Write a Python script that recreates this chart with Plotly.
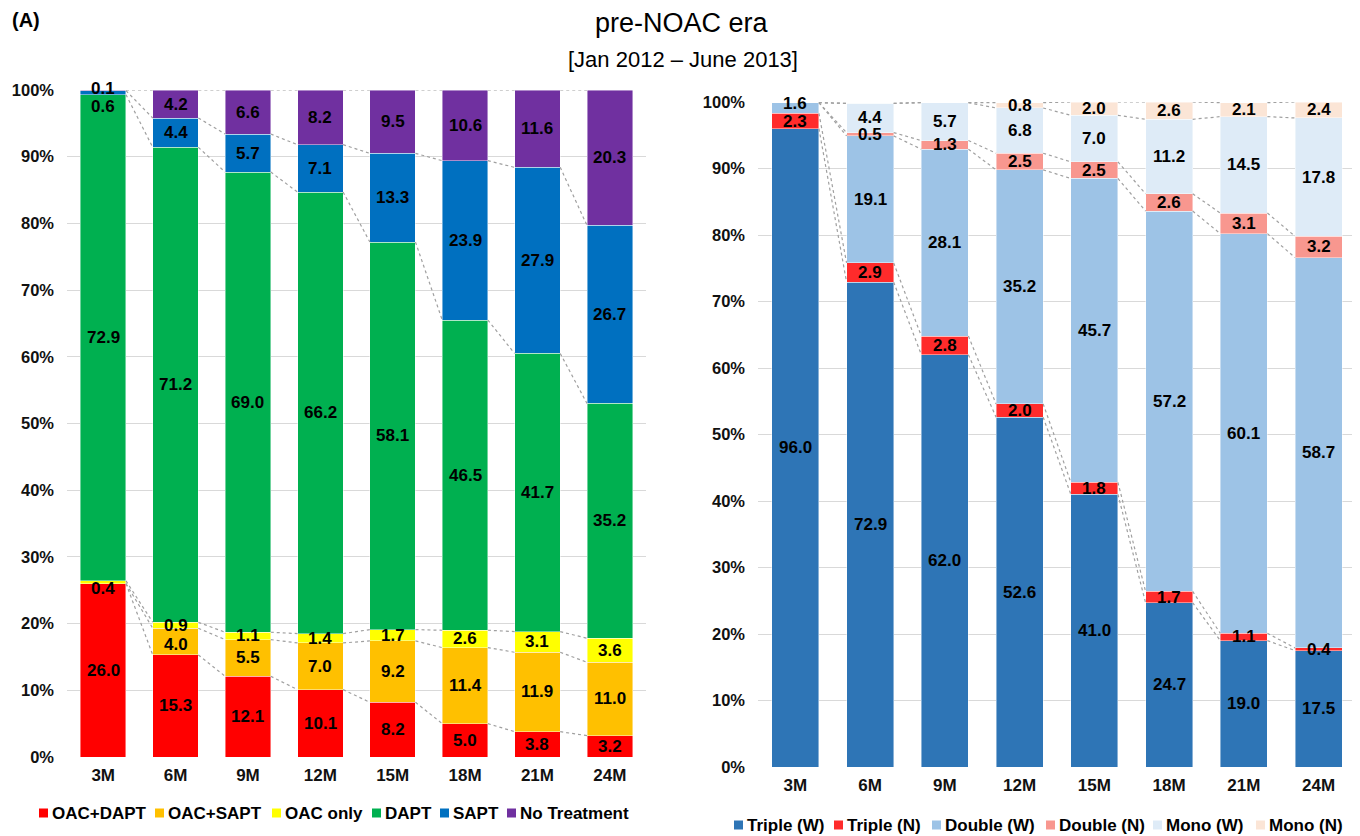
import plotly.graph_objects as go

months = ["3M", "6M", "9M", "12M", "15M", "18M", "21M", "24M"]

# Left panel (treatment strategy, %)
oac_dapt = [26.0, 15.3, 12.1, 10.1, 8.2, 5.0, 3.8, 3.2]
oac_sapt = [0.0, 4.0, 5.5, 7.0, 9.2, 11.4, 11.9, 11.0]
oac_only = [0.4, 0.9, 1.1, 1.4, 1.7, 2.6, 3.1, 3.6]
dapt = [72.9, 71.2, 69.0, 66.2, 58.1, 46.5, 41.7, 35.2]
sapt = [0.6, 4.4, 5.7, 7.1, 13.3, 23.9, 27.9, 26.7]
no_treatment = [0.1, 4.2, 6.6, 8.2, 9.5, 10.6, 11.6, 20.3]

# Right panel (therapy intensity, %)
triple_w = [96.0, 72.9, 62.0, 52.6, 41.0, 24.7, 19.0, 17.5]
triple_n = [2.3, 2.9, 2.8, 2.0, 1.8, 1.7, 1.1, 0.4]
double_w = [1.6, 19.1, 28.1, 35.2, 45.7, 57.2, 60.1, 58.7]
double_n = [0.0, 0.5, 1.3, 2.5, 2.5, 2.6, 3.1, 3.2]
mono_w = [0.0, 4.4, 5.7, 6.8, 7.0, 11.2, 14.5, 17.8]
mono_n = [0.0, 0.0, 0.0, 0.8, 2.0, 2.6, 2.1, 2.4]

left_names = ["OAC+DAPT", "OAC+SAPT", "OAC only", "DAPT", "SAPT", "No Treatment"]
left_values = [oac_dapt, oac_sapt, oac_only, dapt, sapt, no_treatment]
left_colors = ["#FF0000", "#FFC000", "#FFFF00", "#00B050", "#0070C0", "#7030A0"]

right_names = ["Triple (W)", "Triple (N)", "Double (W)", "Double (N)", "Mono (W)", "Mono (N)"]
right_values = [triple_w, triple_n, double_w, double_n, mono_w, mono_n]
right_colors = ["#2E75B6", "#FF2B2B", "#9DC3E6", "#F8978F", "#DEEBF7", "#FBE5D6"]

# label nudges (pixels) for crowded tiny segments: (panel, series, month index)
label_shift = {("L", "SAPT", 0): -14, ("L", "No Treatment", 0): 2,
               ("L", "OAC only", 0): -6, ("L", "OAC+SAPT", 1): -3,
               ("R", "Double (W)", 0): 4, ("R", "Triple (N)", 0): -1}

# custom legend layout (screen pixel positions of legend squares, and row centre)
left_legend_x = [39, 155, 272, 372, 440, 507]
left_legend_y = 813
right_legend_x = [734, 834, 932, 1046, 1153, 1256]
right_legend_y = 825

# the page body adds an 8px offset; work in screen pixels and convert
OFF = 8
SW, SH = 1360, 836
W, H = SW - OFF, SH - OFF
BAR_W = 0.63
FONT = "Liberation Sans, Arial, sans-serif"


def px(x):
    return (x - OFF) / W


def py(y):
    return 1 - (y - OFF) / H


fig = go.Figure()
annotations = []
shapes = []


def add_panel(names, values, colors, xa, ya, panel):
    xs = list(range(len(months)))
    cum = [0.0] * len(months)
    bounds = []
    for name, vals, col in zip(names, values, colors):
        fig.add_trace(go.Bar(
            x=xs, y=vals, name=name, width=BAR_W,
            marker=dict(color=col, line=dict(color="rgba(255,255,255,0.55)", width=0.8)),
            xaxis=xa, yaxis=ya, hoverinfo="skip", showlegend=False,
        ))
        for i, v in enumerate(vals):
            if v > 0:
                annotations.append(dict(
                    x=i, y=cum[i] + v / 2, xref=xa, yref=ya, text=f"{v:.1f}",
                    showarrow=False, yshift=label_shift.get((panel, name, i), 0),
                    font=dict(family=FONT, size=17, color="#000", weight="bold"),
                ))
        cum = [c + v for c, v in zip(cum, vals)]
        bounds.append(list(cum))
    lx, ly = [], []
    for b in bounds:
        for i in range(len(months) - 1):
            lx += [i + BAR_W / 2, i + 1 - BAR_W / 2, None]
            ly += [b[i], b[i + 1], None]
    fig.add_trace(go.Scatter(
        x=lx, y=ly, mode="lines", xaxis=xa, yaxis=ya, showlegend=False,
        line=dict(color="#A0A0A0", width=1.2, dash="dot"), hoverinfo="skip",
    ))


def add_legend(names, colors, xs, yc):
    for name, col, x in zip(names, colors, xs):
        shapes.append(dict(type="rect", xref="paper", yref="paper",
                           x0=px(x), x1=px(x + 9),
                           y0=py(yc + 4.5), y1=py(yc - 4.5),
                           fillcolor=col, line=dict(width=0)))
        annotations.append(dict(x=px(x + 11), y=py(yc), xref="paper", yref="paper",
                                xanchor="left", yanchor="middle", showarrow=False,
                                text=name,
                                font=dict(family=FONT, size=17, color="#000", weight="bold")))


add_panel(left_names, left_values, left_colors, "x", "y", "L")
add_panel(right_names, right_values, right_colors, "x2", "y2", "R")
add_legend(left_names, left_colors, left_legend_x, left_legend_y)
add_legend(right_names, right_colors, right_legend_x, right_legend_y)

xtickfont = dict(family=FONT, size=17, color="#111", weight="bold")
ytickfont = dict(family=FONT, size=16.5, color="#111", weight="bold")
xcommon = dict(tickvals=list(range(len(months))), ticktext=months, range=[-0.5, 7.5],
               showgrid=False, zeroline=False, showline=False, ticks="",
               tickfont=xtickfont, fixedrange=True, automargin=False,
               ticklabelstandoff=6)
ycommon = dict(range=[0, 100], tickvals=list(range(0, 101, 10)),
               ticktext=[f"{v}%" for v in range(0, 101, 10)],
               showgrid=True, gridcolor="#D9D9D9", gridwidth=1, zeroline=False,
               showline=False, ticks="", tickfont=ytickfont, fixedrange=True,
               automargin=False, ticklabelstandoff=12)

fig.update_layout(
    width=W, height=H,
    margin=dict(l=0, r=0, t=0, b=0, autoexpand=False),
    paper_bgcolor="white", plot_bgcolor="white",
    barmode="stack",
    showlegend=False,
    xaxis=dict(domain=[px(67), px(646)], anchor="y", **xcommon),
    yaxis=dict(domain=[py(757), py(90)], anchor="x", **ycommon),
    xaxis2=dict(domain=[px(758), px(1356)], anchor="y2", **xcommon),
    yaxis2=dict(domain=[py(767), py(102)], anchor="x2", **ycommon),
)

annotations += [
    dict(x=px(10), y=py(20), xref="paper", yref="paper", xanchor="left",
         yanchor="middle", showarrow=False, text="(A)",
         font=dict(family=FONT, size=20, color="#000", weight="bold")),
    dict(x=px(682), y=py(23), xref="paper", yref="paper", xanchor="center",
         yanchor="middle", showarrow=False, text="pre-NOAC era",
         font=dict(family=FONT, size=27, color="#000")),
    dict(x=px(683), y=py(59), xref="paper", yref="paper", xanchor="center",
         yanchor="middle", showarrow=False, text="[Jan 2012 \u2013 June 2013]",
         font=dict(family=FONT, size=22, color="#000")),
]
fig.update_layout(annotations=annotations, shapes=shapes)

fig.write_html("out.html")
